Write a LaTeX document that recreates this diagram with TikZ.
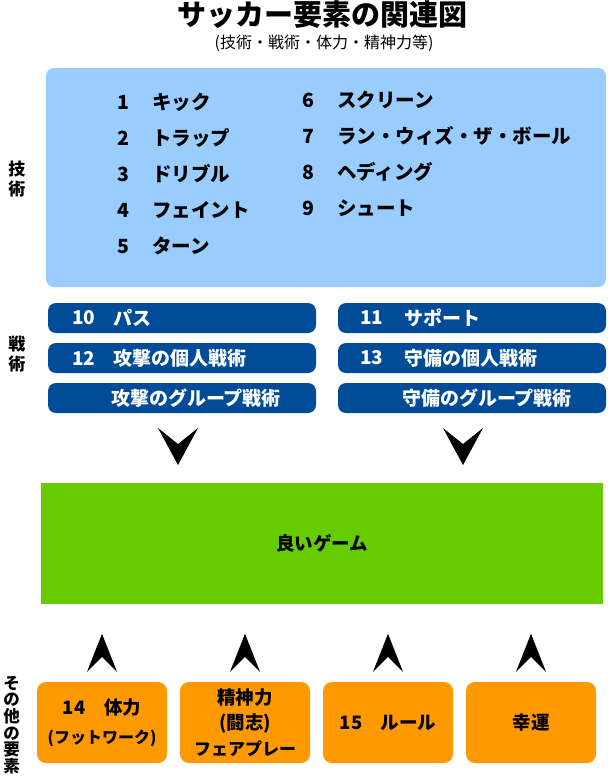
\documentclass[tikz,border=0pt]{standalone}
\usepackage{fontspec}
\setmainfont{Noto Sans CJK JP}
\usepackage{tikz}
\usetikzlibrary{positioning}

\definecolor{skyblue}{HTML}{99CCFF}
\definecolor{navyblue}{HTML}{004C99}
\definecolor{leafgreen}{HTML}{66CC00}
\definecolor{amber}{HTML}{FF9900}

\newcommand{\fs}[2]{\fontsize{#1}{#2}\selectfont}

\begin{document}
\begin{tikzpicture}[x=1pt, y=-1pt,
    panel/.style={fill=skyblue, rounded corners=8pt, minimum width=560pt, minimum height=219pt, inner sep=0pt},
    bar/.style={fill=navyblue, rounded corners=8pt, minimum width=268pt, minimum height=30pt, inner sep=0pt},
    tile/.style={fill=amber, rounded corners=9pt, minimum width=130pt, minimum height=81pt, inner sep=0pt, align=center, font=\fs{18.5}{25.5}\bfseries},
    item/.style={inner sep=0pt, font=\fs{19.5}{24}\bfseries},
    baritem/.style={inner sep=0pt, text=white, font=\fs{19}{24}\bfseries},
    side/.style={inner sep=0pt, align=center, font=\fs{17}{20.5}\bfseries}]
    \useasboundingbox (0,0) rectangle (608,777);

    % Title
    \node[font=\fs{29}{32}\bfseries] (title) at (322,15) {サッカー要素の関連図};
    \node[font=\fs{16}{18}] (subtitle) at (324,43.5) {(技術・戦術・体力・精神力等)};

    % Techniques
    \node[panel] (panel) at (326,177.5) {};
    \node[side] (lbltech) at (17,179) {技\\術};
    \foreach \n/\txt [count=\i from 0] in {1/キック,2/トラップ,3/ドリブル,4/フェイント,5/ターン}
    {
        \node[item, anchor=base] (n\n) at (123,{109+36*\i}) {\n};
        \node[item, anchor=base west] (t\n) at (152,{109+36*\i}) {\txt};
    }
    \foreach \n/\txt [count=\i from 0] in {6/スクリーン,7/ラン・ウィズ・ザ・ボール,8/ヘディング,9/シュート}
    {
        \node[item, anchor=base] (n\n) at (308,{107+36*\i}) {\n};
        \node[item, anchor=base west] (t\n) at (337,{107+36*\i}) {\txt};
    }

    % Tactics
    \node[side] (lbltact) at (17,354) {戦\\術};
    \node[bar] (pass) at (182,318) {};
    \node[bar] (support) at (472,318) {};
    \node[bar] (atkind) at (182,358) {};
    \node[bar] (defind) at (472,358) {};
    \node[bar] (atkgrp) at (182,398) {};
    \node[bar] (defgrp) at (472,398) {};

    \node[baritem] (n10) at ([xshift=36pt]pass.west) {10};
    \node[baritem, anchor=west] (t10) at ([xshift=65pt]pass.west) {パス};
    \node[baritem] (n11) at ([xshift=34pt]support.west) {11};
    \node[baritem, anchor=west] (t11) at ([xshift=66pt]support.west) {サポート};
    \node[baritem] (n12) at ([xshift=36pt]atkind.west) {12};
    \node[baritem, anchor=west] (t12) at ([xshift=65pt]atkind.west) {攻撃の個人戦術};
    \node[baritem] (n13) at ([xshift=34pt]defind.west) {13};
    \node[baritem, anchor=west] (t13) at ([xshift=66pt]defind.west) {守備の個人戦術};
    \node[baritem, anchor=west] (tatk) at ([xshift=63pt]atkgrp.west) {攻撃のグループ戦術};
    \node[baritem, anchor=west] (tdef) at ([xshift=64pt]defgrp.west) {守備のグループ戦術};

    % arrows into the game
    \foreach \ax in {178,463}
        \fill (\ax-20,428) -- (\ax,465) -- (\ax+20,428) -- (\ax,444) -- cycle;

    % The game
    \node[fill=leafgreen, minimum width=562pt, minimum height=121pt, font=\fs{18.5}{22}\bfseries] (game) at (322,543.5) {良いゲーム};

    % Other elements
    \node[inner sep=0pt, align=center, font=\fs{16.5}{16.6}\bfseries] (lblother) at (11.5,725) {そ\\の\\他\\の\\要\\素};
    \node[tile] (stamina) at (102,722.5) {14\quad 体力\\[4pt]{\fs{16}{20}(フットワーク)}};
    \node[tile] (spirit) at (245,722.5) {精神力\\(闘志)\\{\fs{17}{20}フェアプレー}};
    \node[tile] (rules) at (388,722.5) {15\quad ルール};
    \node[tile] (luck) at (531,722.5) {幸運};

    % arrows up from the elements
    \foreach \t in {stamina,spirit,rules,luck}
        \fill (\t.north) ++(-15,-10) -- ++(15,-38) -- ++(15,38) -- ++(-15,-15) -- cycle;

\end{tikzpicture}
\end{document}
